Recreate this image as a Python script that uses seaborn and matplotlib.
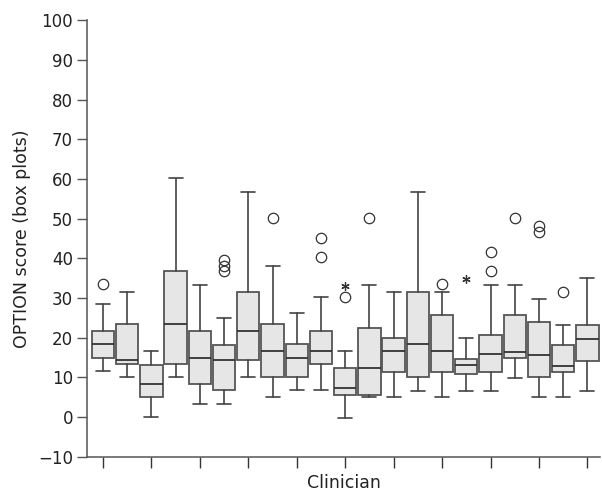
import matplotlib
matplotlib.use("Agg")
import matplotlib.pyplot as plt
import seaborn as sns

# one box per clinician
clinicians = list(range(1, 22))
whisker_low = [11.5, 10.1, 0.1, 10.1, 3.25, 3.25, 10.1, 5.0, 6.7, 6.7, -0.3,
               5.0, 5.0, 6.6, 5.0, 6.5, 6.5, 9.9, 5.0, 5.0, 6.5]
q1 = [14.9, 13.25, 5.1, 13.25, 8.4, 6.7, 14.3, 10.1, 10.1, 13.25, 5.6,
      5.6, 11.4, 10.1, 11.4, 10.7, 11.4, 14.8, 10.1, 11.25, 14.0]
median = [18.3, 14.3, 8.4, 23.5, 14.9, 14.25, 21.75, 16.6, 14.9, 16.5, 7.3,
          12.3, 16.5, 18.3, 16.5, 13.1, 15.75, 16.4, 15.7, 12.9, 19.75]
q3 = [21.75, 23.5, 13.2, 36.75, 21.75, 18.2, 31.6, 23.3, 18.25, 21.75, 12.3,
      22.3, 19.8, 31.6, 25.75, 14.7, 20.6, 25.75, 23.9, 18.1, 23.25]
whisker_high = [28.5, 31.6, 16.7, 60.2, 33.3, 24.9, 56.7, 38.1, 26.3, 30.2, 16.6,
                33.3, 31.6, 56.7, 31.6, 19.9, 33.25, 33.25, 29.75, 23.25, 34.9]
outliers = [[33.6], [], [], [], [], [39.5, 38.0, 36.7], [], [50.2], [], [45.1, 40.2],
            [30.2], [50.2], [], [], [33.6], [], [41.5, 36.7], [50.2], [48.1, 46.5],
            [31.5], []]
extreme_clinician = [11, 16]
extreme_value = [33.1, 34.8]

sns.set_style("ticks")
plt.rcParams["font.family"] = ["DejaVu Sans"]

stats = []
for i in range(len(clinicians)):
    stats.append({
        "whislo": whisker_low[i], "q1": q1[i], "med": median[i],
        "q3": q3[i], "whishi": whisker_high[i], "fliers": outliers[i],
    })

fig = plt.figure(figsize=(6.02, 4.92), dpi=100)
ax = fig.add_axes([0.1445, 0.072, 0.853, 0.887])

edge = "#555555"
ax.bxp(stats, positions=clinicians, widths=0.92, patch_artist=True,
       boxprops=dict(facecolor="#e6e6e6", edgecolor=edge, linewidth=1.3),
       medianprops=dict(color="#333333", linewidth=1.3),
       whiskerprops=dict(color="#444444", linewidth=1.2),
       capprops=dict(color="#444444", linewidth=1.2),
       capwidths=0.58,
       flierprops=dict(marker="o", markerfacecolor="none", markeredgecolor="#333333",
                       markersize=7.5, markeredgewidth=0.9))
ax.plot(extreme_clinician, extreme_value, linestyle="none", marker=(6, 2, 0),
        markersize=6, color="#333333", markeredgewidth=0.9)

ax.set_xlim(0.34, 21.54)
ax.set_ylim(-10, 100)
ax.set_yticks(range(-10, 101, 10))
ax.set_xticks(clinicians[::2])
ax.set_xticklabels([])
ax.tick_params(axis="y", labelsize=12, length=7, width=1, color=edge, pad=3,
               labelcolor="#222222")
ax.tick_params(axis="x", length=8, width=1, color="#333333")
ax.set_xlabel("Clinician", fontsize=12.5, labelpad=1, color="#222222")
ax.set_ylabel("OPTION score (box plots)", fontsize=12.5, labelpad=5, color="#222222")
sns.despine(ax=ax)
for side in ["left", "bottom"]:
    ax.spines[side].set_color(edge)
    ax.spines[side].set_linewidth(1.1)

fig.savefig("out.png", dpi=100)
